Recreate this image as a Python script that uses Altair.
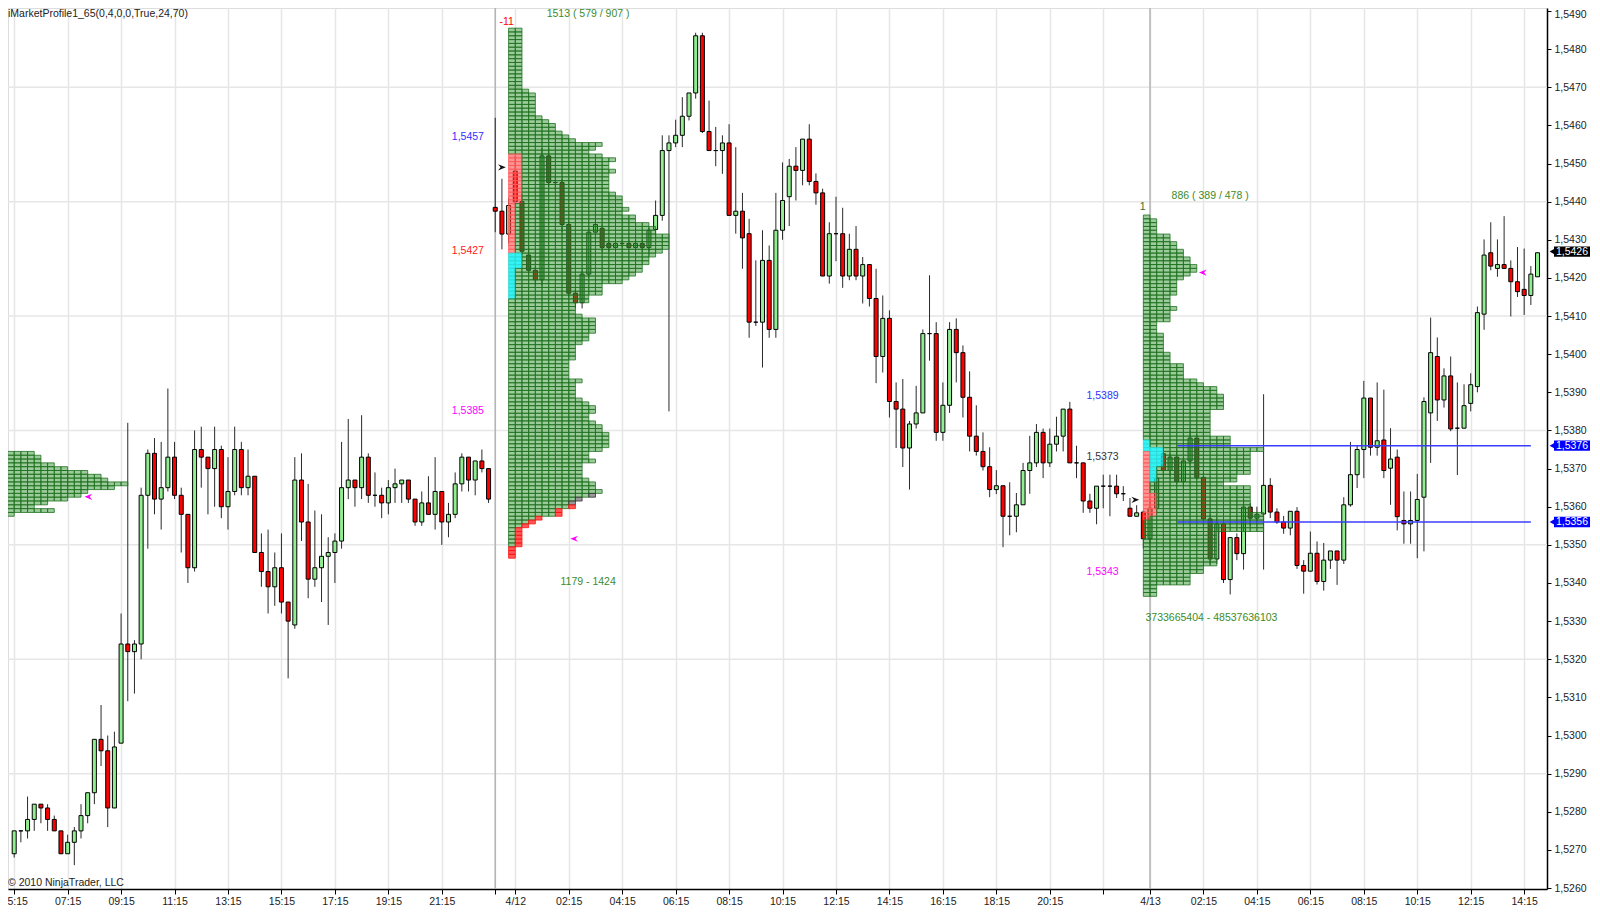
import json
import altair as alt
import pandas as pd

# ---------------- data (prices in pips: 15269 -> 1.5269) ----------------
opens = [15269,15275,15275,15278,15282,15281,15278,15275,15269,15272,15275,15279,15285,15299,15296,15281,15298,15324,15322,15324,
         15363,15374,15362,15365,15373,15363,15358,15344,15375,15373,15370,15375,15360,15364,15375,15365,15368,15348,15343,15339,
         15344,15335,15329,15367,15356,15341,15344,15347,15348,15351,15365,15367,15365,15373,15363,15363,15361,15365,15366,15367,
         15362,15356,15361,15358,15364,15356,15358,15366,15373,15367,15372,15370,
         15438.5,15437.5,15431.5,15448,15440,15426,15422,15419.5,15452,15445,15445,15434,15416,15413.5,15421,15432,15433,15429,
         15428,15429,15429,15428,15429,15428,15432.7,15436.4,15453.4,15455.4,15457.4,15462.4,15468.5,15483.5,15458.4,15453.4,
         15453.4,15455.4,15436.4,15437.5,15431.6,15408.4,15408.4,15424.6,15406.5,15432.5,15441.3,15449.3,15448.2,15456.4,15445.3,
         15442.3,15420.5,15431.6,15431.6,15420.5,15427.5,15420.5,15423.5,15414.6,15399.4,15409.4,15387.6,15385.6,15375.4,15381.7,
         15384.6,15405.4,15405.4,15379.5,15386.6,15406.5,15400.4,15388.7,15378.5,15374.5,15370.5,15364.5,15365.5,15357.5,15357.5,
         15360.5,15369.5,15371.5,15379.5,15371.5,15376.4,15378.5,15385.6,15371.5,15371.5,15361.5,15359.6,15365.4,15365.4,15365.4,
         15363.4,15359.6,15357.5,15358.6,15351.6,15359.6,15373.9,15369.5,15373,15366.6,15372,15378,15367.7,15356.8,15346.3,15355.5,
         15340.9,15351.9,15347.7,15359.9,15357,15358.1,15365.6,15358.6,15356,15354.4,15358.8,15344.6,15343.1,15347.8,15340.4,15346,
         15348.4,15346,15360.5,15368.4,15375,15388.5,15375.6,15377.5,15370.1,15373,15356.4,15355.5,15356.4,15362.5,15384.6,15399.4,
         15388,15394.3,15380.6,15380.6,15387.1,15391.5,15410.5,15426.6,15422.5,15423.5,15422.5,15419,15417,15415.4,15420.3]
highs = [15275,15275,15284,15282,15282,15282,15279,15275,15274,15276,15282,15285,15299,15308,15300,15301,15332,15382,15325,15365,
         15375,15378,15377,15391,15377,15365,15358,15380,15381,15373,15381,15376,15373,15381,15377,15375,15368,15353,15354,15348,
         15353,15335,15373,15374,15366,15359,15358,15352,15353,15377,15383,15367,15384,15374,15369,15365,15367,15370,15367,15367,
         15362,15364,15368,15373,15364,15361,15369,15374,15373,15372,15375,15370,
         15462,15446,15441,15452,15442,15428,15423,15454,15454,15447,15446,15435,15417,15422,15433,15435,15434,15430,
         15430,15430,15430,15430,15430,15433,15440.3,15457.4,15457.4,15461.5,15467.4,15468.5,15484.3,15484.3,15466.5,15459.6,
         15457.4,15460.3,15454.3,15442.3,15435.5,15424.6,15432.5,15428.5,15442.3,15450.3,15451.2,15454.3,15456.4,15460.3,15447.4,
         15443.4,15434.6,15441.3,15438.4,15431.6,15433.6,15425.5,15423.5,15422.4,15415.4,15411.5,15392.6,15393.5,15382.5,15391.7,
         15406.5,15420.7,15408.4,15392.6,15408.4,15409.4,15402.3,15395.5,15386.6,15379.5,15375.6,15369.6,15365.5,15366.4,15363.6,
         15371.5,15378.6,15381.7,15380.5,15380.5,15383.6,15385.6,15387.5,15376,15371.5,15363.4,15365.4,15368.4,15368.4,15368.4,
         15365.4,15362.3,15360.4,15359,15362,15370,15376,15374,15375,15373,15380,15379,15369,15358,15357,15357,
         15352,15353,15362,15361,15360,15389.5,15367.5,15359.6,15357.6,15358.8,15359.9,15346,15353.5,15350.9,15350.5,15348.4,
         15348.4,15362.5,15377,15376.2,15393,15388.5,15392.6,15390.7,15380.6,15375,15364,15364,15368.6,15388.7,15409.6,15404.4,
         15396.3,15399.4,15392.6,15392.1,15395,15412.5,15430.1,15434.6,15430.1,15436.2,15424.6,15428.1,15427.7,15423.1,15426.6]
lows = [15268,15272,15273,15275,15277,15275,15275,15269,15269,15266,15273,15277,15282,15292,15276,15281,15298,15309,15311,15320,
        15349,15358,15354,15364,15362,15348,15340,15343,15365,15358,15360,15357,15354,15363,15363,15363,15348,15339,15332,15334,
        15332,15315,15328,15351,15336,15339,15335,15329,15340,15349,15362,15360,15362,15361,15360,15357,15358,15361,15361,15361,
        15355,15355,15358,15354,15350,15352,15357,15364,15364,15363,15369,15361,
        15432,15427.5,15429,15439,15426,15421,15418,15418,15444,15443,15432,15415,15412,15412,15420,15430,15427,15427,
        15427,15428,15428,15427,15427,15427,15431,15435,15385,15454.3,15454.3,15461.3,15467,15458,15453.4,15449.3,
        15447.3,15436.4,15431.6,15422.4,15404.3,15407.4,15396.5,15404.3,15404.3,15430,15433.6,15440.3,15444.3,15444.3,15439.2,
        15420.5,15418.5,15424.4,15417.4,15419.4,15419.4,15413.3,15412.5,15392.4,15395.2,15383.4,15375.4,15370.4,15364.5,15380.5,
        15384.6,15398.3,15377.3,15377.3,15384.6,15392.6,15383.4,15374.5,15373.4,15369.5,15362.5,15363.3,15349.4,15352.5,15353.3,
        15360.5,15363.4,15370.4,15367.5,15370.4,15374.5,15374.5,15371.5,15367.5,15358.4,15358.4,15355.4,15359.6,15357.5,15362.3,
        15361.5,15357.5,15357.5,15349,15350,15358,15368,15368,15366,15365,15371,15367,15355,15345,15345,15340,
        15337,15346,15343.5,15355,15356,15343.5,15357,15355.5,15352.9,15352.5,15343.7,15337.2,15343.1,15339.6,15338,15343.7,
        15339.5,15345,15360,15364.9,15367.5,15373.4,15373.4,15367.5,15360.5,15353.8,15350.3,15350.3,15346.5,15348.3,15371.5,15382.5,
        15386,15379.8,15368.3,15380.6,15385,15390,15406.4,15422,15420.3,15422.5,15409.9,15415,15410.3,15412.9,15420.3]
closes = [15275,15275,15278,15282,15281,15278,15275,15269,15272,15275,15279,15285,15299,15296,15281,15297,15324,15322,15324,15363,
          15374,15362,15365,15373,15363,15358,15344,15375,15373,15370,15375,15360,15364,15375,15365,15368,15348,15343,15339,15344,
          15335,15330,15367,15356,15341,15344,15347,15348,15351,15365,15367,15365,15373,15363,15363,15361,15365,15366,15367,15362,
          15356,15361,15358,15364,15356,15358,15366,15373,15367,15372,15370,15362,
          15437.5,15431.5,15439,15440,15427,15422,15419.5,15452,15445,15445,15434,15416,15413.5,15421,15432,15434,15428,15428,
          15429,15429,15428,15429,15428,15432.5,15436.4,15453.4,15455.4,15457.4,15462.4,15468.5,15483.5,15458.4,15453.4,15453.4,
          15455.4,15436.4,15437.5,15430.5,15408.4,15408.4,15424.6,15406.5,15432.5,15440.3,15449.3,15448.2,15456.4,15445.3,15442.3,
          15420.5,15431.6,15431.6,15420.5,15427.5,15420.5,15423.5,15414.6,15399.4,15409.4,15387.6,15385.6,15375.4,15381.7,15384.6,
          15405.4,15405.4,15379.5,15386.6,15406.5,15400.4,15388.7,15378.5,15374.5,15370.5,15364.5,15365.5,15357.5,15357.5,15360.5,
          15369.5,15371.5,15379.5,15371.5,15376.4,15378.5,15385.6,15371.5,15371.5,15361.5,15359.6,15365.4,15365.4,15365.4,15363.4,
          15363.4,15357.5,15358.4,15351.6,15359.6,15367.5,15369.5,15373,15366.6,15372,15378,15367.7,15356.8,15346.3,15355.5,15340.9,
          15351.9,15347.7,15359.9,15357,15358,15365.6,15358.6,15356,15354.4,15358.8,15344.6,15343.1,15347.8,15340.4,15346,15348.4,
          15346,15360.5,15368.4,15375,15388.5,15375.6,15377.3,15369.5,15372.5,15357.4,15355.5,15356.4,15361.9,15387.6,15400.4,15388,
          15394.3,15380.4,15380.6,15386.5,15392,15410.9,15426,15423.1,15423.5,15422.5,15419,15416.4,15415.4,15421,15426.6]

tick_idx = [0, 8, 16, 24, 32, 40, 48, 56, 64, 72, 75, 83, 91, 99, 107, 115, 123, 131, 139, 147, 155, 163,
            170, 178, 186, 194, 202, 210, 218, 226]
tick_lbl = ['05:15', '07:15', '09:15', '11:15', '13:15', '15:15', '17:15', '19:15', '21:15', '', '4/12',
            '02:15', '04:15', '06:15', '08:15', '10:15', '12:15', '14:15', '16:15', '18:15', '20:15', '',
            '4/13', '02:15', '04:15', '06:15', '08:15', '10:15', '12:15', '14:15']
session_idx = [72, 170]
grid_prices = [15470, 15440, 15410, 15380, 15350, 15320, 15290]
axis_prices = list(range(15260, 15491, 10))

# market profiles: left bar index, top row price (pips), row widths (cells) from top down
profA_left, profA_top = -1, 15374
profA_w = [4, 5, 5, 7, 9, 12, 14, 15, 18, 16, 12, 11, 9, 6, 4, 7, 1]
profB_left, profB_top = 74, 15485
profB_w = ([2] * 16 + [3] + [4] * 6 + [5, 6, 7, 7, 8, 9, 10, 14, 13, 12, 14, 16, 15, 15, 16] + [15] * 5 +
           [16, 17, 17, 17, 18, 17, 19, 19, 21, 22, 22, 24, 24, 24, 24, 23, 22, 21, 21, 20, 20, 19, 18, 17,
            14, 14, 14, 12, 12, 10, 10, 10, 11, 13, 13, 13, 13, 12, 12, 11, 10, 10, 10, 10, 9, 9, 9, 9, 9,
            11, 10, 10, 10, 10, 11, 12, 13, 13, 12, 12, 13, 14, 14, 15, 15, 15, 15, 14, 12, 12, 13, 11, 11,
            11, 11, 12, 13, 13, 14, 13, 11, 10, 10, 8, 8, 5, 4, 3, 2, 2, 2, 2, 2, 1, 1, 1])
profC_left, profC_top = 169, 15436
profC_w = ([1] + [2] * 4 + [4, 4, 5, 5, 6, 6, 7, 7, 8, 8, 7, 6, 5, 5, 5, 5, 4, 4, 4, 5, 4, 4, 4, 2, 2, 2,
           3, 3, 3, 3, 3, 4, 4, 4, 6, 6, 6, 6, 8, 9, 11, 11, 12, 12, 12, 12] + [10] * 7 + [13, 13, 13, 18] +
           [16] * 6 + [14, 14, 12] + [16] * 7 + [18] * 5 + [11] * 9 + [9, 9, 7, 7, 7, 2, 2, 2])
# coloured cells: (profile, column, first row, last row, kind)
special_cells = [('B', 0, 33, 58, 'p'), ('B', 1, 33, 45, 'p'), ('B', 0, 59, 70, 'c'), ('B', 1, 59, 62, 'c'),
                 ('C', 0, 62, 79, 'p'), ('C', 1, 73, 78, 'p'), ('C', 0, 59, 61, 'c'), ('C', 1, 61, 69, 'c'),
                 ('C', 2, 61, 65, 'c')]
profB_last_gray = [122, 123, 124]
profB_last_red = list(range(125, 139))

# annotations: bar index, price (pips), text, colour
notes = [
    (73.7, 15487.0, '-11', '#ff0000'),
    (85.9, 15489.2, '1513 ( 579 / 907 )', '#3c8c28'),
    (67.9, 15457, '1,5457', '#3030ff'),
    (67.9, 15427, '1,5427', '#ff2020'),
    (67.9, 15385, '1,5385', '#ff00ff'),
    (85.9, 15340.3, '1179 - 1424', '#3c8c28'),
    (179.0, 15441.6, '886 ( 389 / 478 )', '#3c8c28'),
    (168.9, 15438.6, '1', '#2f6f2f'),
    (162.9, 15389, '1,5389', '#3030ff'),
    (162.9, 15373, '1,5373', '#333333'),
    (162.9, 15343, '1,5343', '#ff00ff'),
    (179.2, 15330.9, '3733665404 - 48537636103', '#3c8c28'),
]
magenta_marks = [(11.1, 15362.6), (83.8, 15351.6), (177.9, 15421.4)]
black_marks = [(73.0, 15449.0), (167.8, 15361.8)]
blue_levels = [15376, 15356]
blue_from, blue_to = 174.1, 227.0
price_tags = [(15426.9, '1,5426', '#000000'), (15376, '1,5376', '#0000ff'), (15356, '1,5356', '#0000ff')]
title_text = 'iMarketProfile1_65(0,4,0,0,True,24,70)'
copyright_text = '\u00a9 2010 NinjaTrader, LLC'

# ---------------- build tables ----------------
PIP = 1e-4
n = len(opens)
cd = pd.DataFrame({'i': list(range(n)), 'o': [v * PIP for v in opens], 'h': [v * PIP for v in highs],
                   'l': [v * PIP for v in lows], 'c': [v * PIP for v in closes]})
cd['blo'] = cd[['o', 'c']].min(axis=1)
cd['bhi'] = cd[['o', 'c']].max(axis=1)
cd['col'] = ['#90ee90' if c >= o else '#ff0000' for o, c in zip(cd['o'], cd['c'])]

style = {'g': ('#3a9a3a', 0.5, '#1e6e1e'), 'p': ('#ff3c3c', 0.55, '#ff5a5a'),
         'c': ('#00f0f0', 0.8, '#30d8d8'), 'r': ('#ff2020', 0.75, '#ff1010'),
         'x': ('#707070', 0.7, '#303030')}
cells = []
profiles = {'A': (profA_left, profA_top, profA_w), 'B': (profB_left, profB_top, profB_w),
            'C': (profC_left, profC_top, profC_w)}
kind_map = {}
for name, col, r0, r1, kind in special_cells:
    for r in range(r0, r1 + 1):
        kind_map[(name, r, col)] = kind
for r in profB_last_gray:
    kind_map[('B', r, profB_w[r] - 1)] = 'x'
for r in profB_last_red:
    kind_map[('B', r, profB_w[r] - 1)] = 'r'
for name, (left, top, widths) in profiles.items():
    for r, w in enumerate(widths):
        p = top - r
        for k in range(w):
            kind = kind_map.get((name, r, k), 'g')
            f, op, s = style[kind]
            cells.append({'x0': left + k, 'x1': left + k + 1, 'p0': (p - 0.5) * PIP, 'p1': (p + 0.5) * PIP,
                          'fill': f, 'op': op, 'stroke': s})
cells = pd.DataFrame(cells)

notes_df = pd.DataFrame([{'x': a, 'p': b * PIP, 't': t, 'col': c} for a, b, t, c in notes])
mag_df = pd.DataFrame([{'x': a, 'p': b * PIP} for a, b in magenta_marks])
blk_df = pd.DataFrame([{'x': a, 'p': b * PIP} for a, b in black_marks])
blue_df = pd.DataFrame([{'a': blue_from, 'b': blue_to, 'p': v * PIP} for v in blue_levels])
tags_df = pd.DataFrame([{'p': v * PIP, 'lo': (v - 1.35) * PIP, 'hi': (v + 1.35) * PIP, 't': t, 'col': c}
                        for v, t, c in price_tags])
hgrid_df = pd.DataFrame({'p': [v * PIP for v in grid_prices]})
sess_df = pd.DataFrame({'i': session_idx})

# ---------------- scales / axes ----------------
W, H = 1539, 881
X_MIN, X_MAX = (8 - 9.2) / 6.725, (1547 - 9.2) / 6.725
Y_MAX = (15490 + 3 / 3.822) * PIP
Y_MIN = (15490 - 880 / 3.822) * PIP
xs = alt.Scale(domain=[X_MIN, X_MAX], nice=False, zero=False)
ys = alt.Scale(domain=[Y_MIN, Y_MAX], nice=False, zero=False)
FONT = 'Liberation Sans'
x_axis = alt.Axis(values=tick_idx, labelExpr=f"{json.dumps(tick_lbl)}[indexof({json.dumps(tick_idx)}, datum.value)]",
                  grid=True, gridColor='#e6e6e6', gridWidth=1.5, tickColor='#000000', domainColor='#000000',
                  domainWidth=1.5, tickSize=5, labelFont=FONT, labelFontSize=10.5, labelColor='#222222',
                  labelPadding=2, labelOverlap=False, labelBound=False, labelFlush=False, title=None, orient='bottom')
y_axis = alt.Axis(values=[round(v * PIP, 4) for v in axis_prices],
                  labelExpr="replace(format(datum.value, '.4f'), '.', ',')", grid=False, tickColor='#000000',
                  domainColor='#000000', domainWidth=1.5, tickSize=4, labelFont=FONT, labelFontSize=10.5,
                  labelColor='#222222', labelPadding=3, labelOverlap=False, labelBound=False, title=None,
                  labelOffset={'condition': {'test': 'datum.value > 1.5489', 'value': 4}, 'value': 0},
                  orient='right')


def X(f):
    return alt.X(f, type='quantitative', scale=xs, axis=x_axis, title=None)


def Y(f):
    return alt.Y(f, type='quantitative', scale=ys, axis=y_axis, title=None)


hgrid = alt.Chart(hgrid_df).mark_rule(color='#e6e6e6', strokeWidth=1.5).encode(y=Y('p'))
sess = alt.Chart(sess_df).mark_rule(color='#b4b4b4', strokeWidth=1.5).encode(x=X('i'))
wicks = alt.Chart(cd).mark_rule(color='#2a2a2a', strokeWidth=1).encode(x=X('i'), y=Y('l'), y2='h')
bodies = alt.Chart(cd).mark_bar(size=4, stroke='#000000', strokeWidth=1).encode(
    x=X('i'), y=Y('blo'), y2='bhi', color=alt.Color('col:N', scale=None))
prof = alt.Chart(cells).mark_rect(strokeWidth=0.8).encode(
    x=X('x0'), x2='x1', y=Y('p0'), y2='p1', fill=alt.Fill('fill:N', scale=None),
    stroke=alt.Stroke('stroke:N', scale=None), fillOpacity=alt.FillOpacity('op:Q', scale=None))
blue = alt.Chart(blue_df).mark_rule(color='#3c3cff', strokeWidth=1.5).encode(x=X('a'), x2='b', y=Y('p'))
txt = alt.Chart(notes_df).mark_text(font=FONT, fontSize=10.5, align='center', baseline='middle').encode(
    x=X('x'), y=Y('p'), text='t:N', color=alt.Color('col:N', scale=None))
arrow_l = 'M1,-0.8L-1,0L1,0.8L0.35,0Z'
arrow_r = 'M-1,-0.8L1,0L-1,0.8L-0.35,0Z'
mag = alt.Chart(mag_df).mark_point(shape=arrow_l, filled=True, size=60, color='#ff00ff', opacity=1).encode(
    x=X('x'), y=Y('p'))
blk = alt.Chart(blk_df).mark_point(shape=arrow_r, filled=True, size=60, color='#111111', opacity=1).encode(
    x=X('x'), y=Y('p'))
tag_box = alt.Chart(tags_df).mark_rect().encode(
    x=alt.value(W + 7), x2=alt.value(W + 43), y=Y('lo'), y2='hi', fill=alt.Fill('col:N', scale=None))
tag_tri = alt.Chart(tags_df).mark_point(shape='triangle-left', filled=True, size=60, opacity=1).encode(
    x=alt.value(W + 6), y=Y('p'), color=alt.Color('col:N', scale=None))
tag_txt = alt.Chart(tags_df).mark_text(font=FONT, fontSize=10.5, color='#ffffff', align='center',
                                       baseline='middle').encode(x=alt.value(W + 25), y=Y('p'), text='t:N')
title = alt.Chart(pd.DataFrame({'t': [title_text]})).mark_text(
    font=FONT, fontSize=10.5, color='#222222', align='left', baseline='middle').encode(
    x=alt.value(0), y=alt.value(6), text='t:N')
copy = alt.Chart(pd.DataFrame({'t': [copyright_text]})).mark_text(
    font=FONT, fontSize=10.5, color='#222222', align='left', baseline='middle').encode(
    x=alt.value(0), y=alt.value(875), text='t:N')

chart = alt.layer(hgrid, sess, wicks, bodies, prof, blue, txt, mag, blk, tag_box, tag_tri, tag_txt, title, copy
                  ).properties(width=W, height=H, autosize=alt.AutoSizeParams(type='none'),
                               padding={'left': 0, 'top': 0, 'right': 45, 'bottom': 16}
                               ).configure_view(stroke=None).configure(background='#ffffff')

chart.save('out.html', embed_options={'renderer': 'svg', 'actions': False})
